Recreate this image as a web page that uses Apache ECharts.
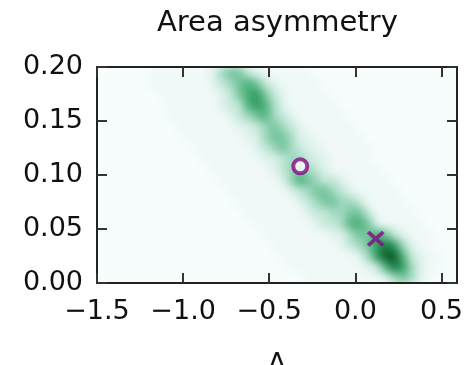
<!DOCTYPE html>
<html>
<head>
<meta charset="utf-8">
<script src="https://cdn.jsdelivr.net/npm/echarts@6/dist/echarts.min.js"></script>
<style>
  html, body { margin: 0; padding: 0; background: #fff; }
  #wrap { position: relative; width: 465px; height: 365px; }
  #heat, #main { position: absolute; left: 0; top: 0; width: 465px; height: 365px; }
  /* soften the density cells, keep them inside the plot box */
  #heat { filter: blur(4px); clip-path: inset(67px 8px 82px 97px); }
</style>
</head>
<body>
<div id="wrap"><div id="heat"></div><div id="main"></div></div>
<script>
// density bins: Λ from -1.5 in steps of 0.05, asymmetry from 0 in steps of 0.01
var lambdaStart = -1.5, lambdaStep = 0.05;
var asymStart = 0, asymStep = 0.01;
// one string per row, top row (0.19-0.20) first, one digit (0-9) per Λ bin
var densityRows = [
  "000000111111124553211111100000000000000000",
  "000000111111123456532111110000000000000000",
  "000000011111112356753211111000000000000000",
  "000000001111112336764211111100000000000000",
  "000000001111111234564321111110000000000000",
  "000000000111111122345432111111000000000000",
  "000000000011111112245542211111100000000000",
  "000000000001111111234543221111110000000000",
  "000000000000111111122344322111110000000000",
  "000000000000011111112345432111111000000000",
  "000000000000001111111246543321111100000000",
  "000000000000000111111123455432111110000000",
  "000000000000000011111112345544311111000000",
  "000000000000000001111111233445531111100000",
  "000000000000000000111111123346652111110000",
  "000000000000000000011111111224556532111000",
  "000000000000000000001111111123457874211000",
  "000000000000000000000111111111247996321100",
  "000000000000000000000011111111123687421100",
  "000000000000000000000000111111111245421000"
];
var xTicks = [-1.5, -1.0, -0.5, 0.0, 0.5];
var yTicks = [0, 0.05, 0.1, 0.15, 0.2];
var circlePoint = [[-0.32, 0.108]];
var crossPoint = [[0.118, 0.041]];

var xMin = -1.5, xMax = 0.59, yMin = 0, yMax = 0.2;
var gridBox = { left: 97, right: 8, top: 67, bottom: 82, outerBoundsMode: 'none' };

var cells = [];
densityRows.forEach(function (row, k) {
  var j = densityRows.length - 1 - k;
  for (var i = 0; i < row.length; i++) {
    cells.push([lambdaStart + i * lambdaStep, asymStart + j * asymStep, +row[i]]);
  }
});

var heat = echarts.init(document.getElementById('heat'));
heat.setOption({
  backgroundColor: '#f7fcfd',
  animation: false,
  grid: gridBox,
  xAxis: { type: 'value', min: xMin, max: xMax, show: false },
  yAxis: { type: 'value', min: yMin, max: yMax, show: false },
  visualMap: {
    show: false, type: 'continuous', dimension: 2, min: 0, max: 9, seriesIndex: 0,
    inRange: { color: ['#f7fcfd', '#f0f9f8', '#dff2ec', '#c4e8d9', '#9fd8bf', '#74c49c', '#4cb07b', '#2e9a5c', '#167a40', '#0a5a2a'] }
  },
  series: [{
    type: 'custom',
    data: cells,
    encode: { x: 0, y: 1 },
    renderItem: function (params, api) {
      var p0 = api.coord([api.value(0), api.value(1)]);
      var p1 = api.coord([api.value(0) + lambdaStep, api.value(1) + asymStep]);
      return {
        type: 'rect',
        shape: { x: p0[0], y: p1[1], width: p1[0] - p0[0] + 0.5, height: p0[1] - p1[1] + 0.5 },
        style: { fill: api.visual('color') }
      };
    }
  }]
});

var font = 'DejaVu Sans';
var tickStyle = { show: true, inside: true, length: 10, lineStyle: { color: '#333', width: 2 } };
var noLine = { show: false, onZero: false };
function fmtX(v) { return (v < 0 ? '\u2212' : '') + Math.abs(v).toFixed(1); }

var chart = echarts.init(document.getElementById('main'));
chart.setOption({
  backgroundColor: 'transparent',
  animation: false,
  title: {
    text: 'Area asymmetry', left: 157, top: 9, padding: 0,
    textStyle: { fontFamily: font, fontSize: 29, fontWeight: 'normal', color: '#111' }
  },
  grid: Object.assign({ show: true, borderColor: '#222', borderWidth: 2, backgroundColor: 'transparent' }, gridBox),
  xAxis: [{
    type: 'value', min: xMin, max: xMax, position: 'bottom',
    name: '\u039b', nameLocation: 'middle', nameGap: 68,
    nameTextStyle: { fontFamily: font, fontSize: 27, color: '#111' },
    axisLine: noLine, splitLine: { show: false },
    axisTick: Object.assign({ customValues: xTicks }, tickStyle),
    axisLabel: { customValues: xTicks, formatter: fmtX, margin: 15, fontFamily: font, fontSize: 27, color: '#111' }
  }, {
    type: 'value', min: xMin, max: xMax, position: 'top',
    axisLine: noLine, splitLine: { show: false },
    axisTick: Object.assign({ customValues: xTicks }, tickStyle),
    axisLabel: { show: false }
  }],
  yAxis: [{
    type: 'value', min: yMin, max: yMax, position: 'left',
    axisLine: noLine, splitLine: { show: false },
    axisTick: Object.assign({ customValues: yTicks }, tickStyle),
    axisLabel: { customValues: yTicks, formatter: function (v) { return v.toFixed(2); }, margin: 14, fontFamily: font, fontSize: 27, color: '#111' }
  }, {
    type: 'value', min: yMin, max: yMax, position: 'right',
    axisLine: noLine, splitLine: { show: false },
    axisTick: Object.assign({ customValues: yTicks }, tickStyle),
    axisLabel: { show: false }
  }],
  series: [{
    type: 'scatter', data: circlePoint, symbol: 'circle', symbolSize: 14,
    itemStyle: { color: '#ffffff', borderColor: '#850a85', borderWidth: 4 }
  }, {
    type: 'scatter', data: crossPoint,
    symbol: 'path://M2.5,0L8,5.5L13.5,0L16,2.5L10.5,8L16,13.5L13.5,16L8,10.5L2.5,16L0,13.5L5.5,8L0,2.5Z',
    symbolSize: [18, 16],
    itemStyle: { color: '#850a85' }
  }]
});
</script>
</body>
</html>
